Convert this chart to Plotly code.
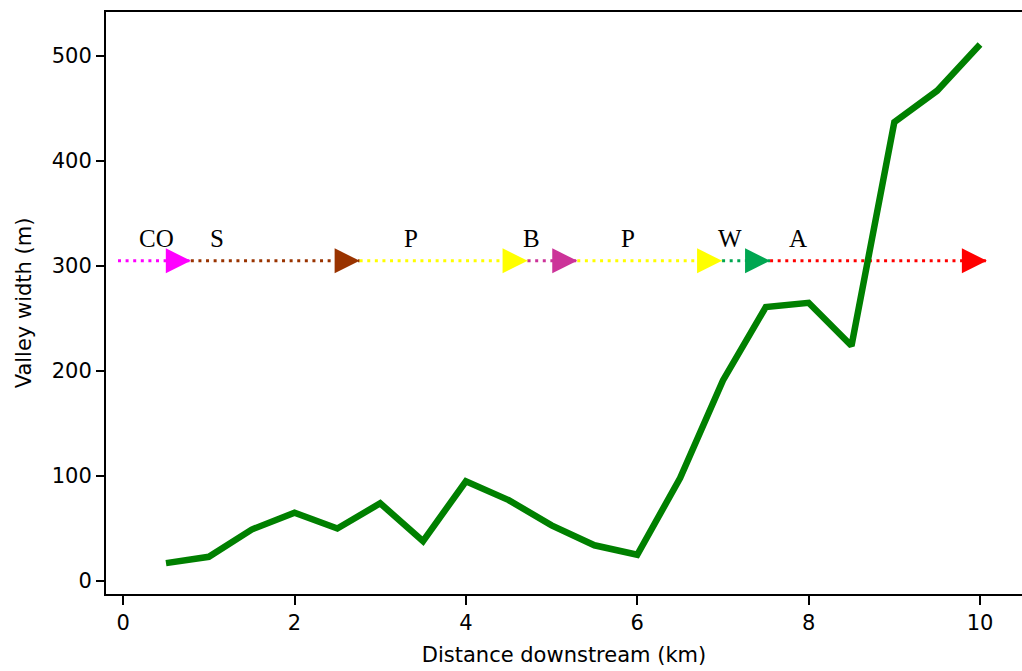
import plotly.graph_objects as go

# Valley width profile along the channel
distance_km = [0.5, 1.0, 1.5, 2.0, 2.5, 3.0, 3.5, 4.0, 4.5, 5.0,
               5.5, 6.0, 6.5, 7.0, 7.5, 8.0, 8.5, 9.0, 9.5, 10.0]
valley_width_m = [17, 23, 49, 65, 50, 74, 38, 95, 77, 53,
                  34, 25, 98, 191, 261, 265, 224, 437, 467, 511]

# Geological units along the reach (segment boundaries in km)
unit_labels = ["CO", "S", "P", "B", "P", "W", "A"]
unit_bounds = [-0.06, 0.79, 2.76, 4.72, 5.30, 6.99, 7.55, 10.08]
unit_colors = ["#ff00ff", "#993300", "#ffff00", "#cc3399",
               "#ffff00", "#00a651", "#ff0000"]
unit_label_x = [0.39, 1.09, 3.36, 4.77, 5.89, 7.08, 7.87]
unit_band_y = 305
unit_label_y = 326

fig = go.Figure()

for i, lab in enumerate(unit_labels):
    x0, x1 = unit_bounds[i], unit_bounds[i + 1]
    fig.add_trace(go.Scatter(
        x=[x0, x1], y=[unit_band_y, unit_band_y],
        mode="lines",
        line=dict(color=unit_colors[i], width=3, dash="3px,4.6px"),
        hoverinfo="skip", showlegend=False,
    ))
    fig.add_trace(go.Scatter(
        x=[x1], y=[unit_band_y],
        mode="markers",
        marker=dict(symbol="arrow-right", size=25, color=unit_colors[i],
                    line=dict(width=0)),
        hoverinfo="skip", showlegend=False,
    ))
    fig.add_annotation(
        x=unit_label_x[i], y=unit_label_y, text=lab, showarrow=False,
        font=dict(family="Liberation Serif, Times New Roman, serif",
                  size=25, color="black"),
        xanchor="center", yanchor="middle",
    )

fig.add_trace(go.Scatter(
    x=distance_km, y=valley_width_m,
    mode="lines",
    line=dict(color="#008000", width=6.5),
    showlegend=False,
))

axis_font = dict(family="DejaVu Sans, Verdana, sans-serif", size=21, color="black")

fig.update_xaxes(
    range=[-0.2, 10.49],
    tickvals=[0, 2, 4, 6, 8, 10],
    showline=True, linecolor="black", linewidth=2, mirror=True,
    ticks="outside", ticklen=9, tickwidth=2, tickcolor="black",
    showgrid=False, zeroline=False,
    tickfont=axis_font,
    title=dict(text="Distance downstream (km)", font=axis_font, standoff=13),
)
fig.update_yaxes(
    range=[-12.4, 542],
    tickvals=[0, 100, 200, 300, 400, 500],
    showline=True, linecolor="black", linewidth=2,
    ticks="outside", ticklen=8, tickwidth=2, tickcolor="black",
    showgrid=False, zeroline=False,
    tickfont=axis_font,
    title=dict(text="Valley width (m)", font=axis_font, standoff=14),
)

fig.update_layout(
    width=1022, height=671,
    margin=dict(l=106, r=0, t=12, b=77),
    plot_bgcolor="white", paper_bgcolor="white",
)

fig.write_html("out.html")
